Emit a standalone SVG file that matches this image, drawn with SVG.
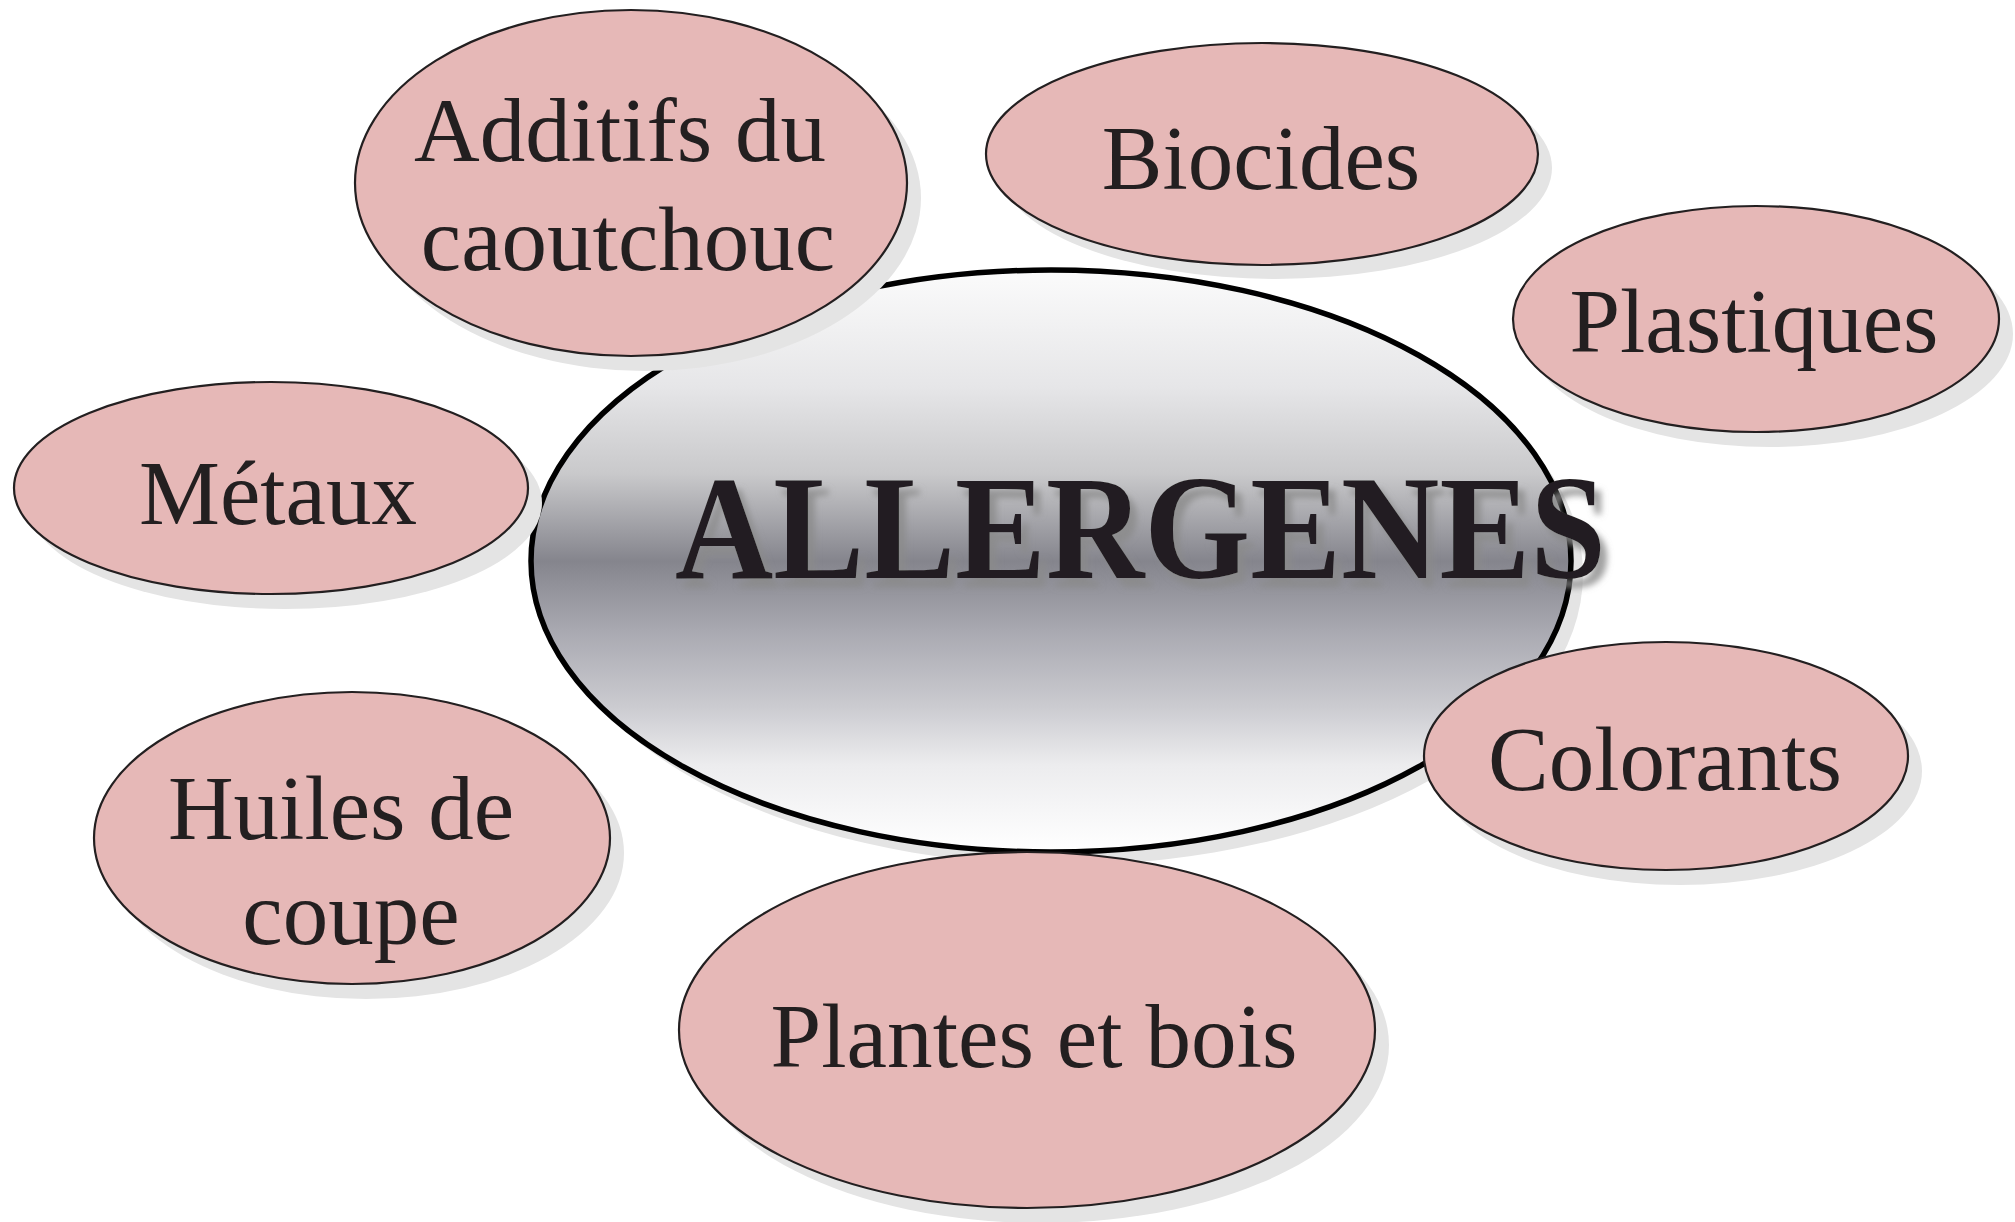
<svg xmlns="http://www.w3.org/2000/svg" width="2015" height="1222" viewBox="0 0 2015 1222">
<defs>
<linearGradient id="metal" x1="0" y1="0" x2="0" y2="1">
<stop offset="0" stop-color="#fbfbfb"/>
<stop offset="0.2" stop-color="#e6e6e8"/>
<stop offset="0.35" stop-color="#c9c9cb"/>
<stop offset="0.5" stop-color="#85858d"/>
<stop offset="0.62" stop-color="#a9a9b1"/>
<stop offset="0.75" stop-color="#cbcbd0"/>
<stop offset="0.85" stop-color="#ececee"/>
<stop offset="1" stop-color="#ffffff"/>
</linearGradient>
<filter id="tshadow" x="-10%" y="-20%" width="120%" height="150%">
<feDropShadow dx="7" dy="9" stdDeviation="3" flood-color="#8a8a8a" flood-opacity="0.8"/>
</filter>
</defs>
<style>
.shadow{fill:#e4e4e4;stroke:none}
.pink{fill:#e6b8b7;stroke:#231f20;stroke-width:2.2}
.lbl{font-family:"Liberation Serif","Times New Roman",serif;font-size:91px;fill:#231f20;text-anchor:middle}
</style>
<rect width="2015" height="1222" fill="#ffffff"/>
<g id="center">
<ellipse class="shadow" cx="1063" cy="574" rx="520" ry="291"/>
<ellipse cx="1051" cy="561" rx="520" ry="291" fill="url(#metal)" stroke="#000000" stroke-width="5.5"/>
<text x="675" y="578" textLength="931" lengthAdjust="spacingAndGlyphs" font-family="'Liberation Serif','Times New Roman',serif" font-weight="bold" font-size="148" fill="#231f20" filter="url(#tshadow)">ALLERGENES</text>
</g>
<g id="connectors"></g>
<g id="additifs">
<ellipse class="shadow" cx="645" cy="198" rx="276" ry="173"/>
<ellipse class="pink" cx="631" cy="183" rx="276" ry="173"/>
<text class="lbl" x="620" y="161">Additifs du</text>
<text class="lbl" x="628" y="270">caoutchouc</text>
</g>
<g id="biocides">
<ellipse class="shadow" cx="1276" cy="168" rx="276" ry="111"/>
<ellipse class="pink" cx="1262" cy="154" rx="276" ry="111"/>
<text class="lbl" x="1261" y="189">Biocides</text>
</g>
<g id="plastiques">
<ellipse class="shadow" cx="1770" cy="334" rx="243" ry="113"/>
<ellipse class="pink" cx="1756" cy="319" rx="243" ry="113"/>
<text class="lbl" x="1754" y="352">Plastiques</text>
</g>
<g id="metaux">
<ellipse class="shadow" cx="285" cy="503" rx="257" ry="106"/>
<ellipse class="pink" cx="271" cy="488" rx="257" ry="106"/>
<text class="lbl" x="278" y="524">Métaux</text>
</g>
<g id="huiles">
<ellipse class="shadow" cx="366" cy="853" rx="258" ry="146"/>
<ellipse class="pink" cx="352" cy="838" rx="258" ry="146"/>
<text class="lbl" x="341" y="839">Huiles de</text>
<text class="lbl" x="351" y="944">coupe</text>
</g>
<g id="plantes">
<ellipse class="shadow" cx="1041" cy="1045" rx="348" ry="178"/>
<ellipse class="pink" cx="1027" cy="1030" rx="348" ry="178"/>
<text class="lbl" x="1034" y="1067" textLength="527" lengthAdjust="spacingAndGlyphs">Plantes et bois</text>
</g>
<g id="colorants">
<ellipse class="shadow" cx="1680" cy="771" rx="242" ry="114"/>
<ellipse class="pink" cx="1666" cy="756" rx="242" ry="114"/>
<text class="lbl" x="1665" y="790">Colorants</text>
</g>
</svg>
